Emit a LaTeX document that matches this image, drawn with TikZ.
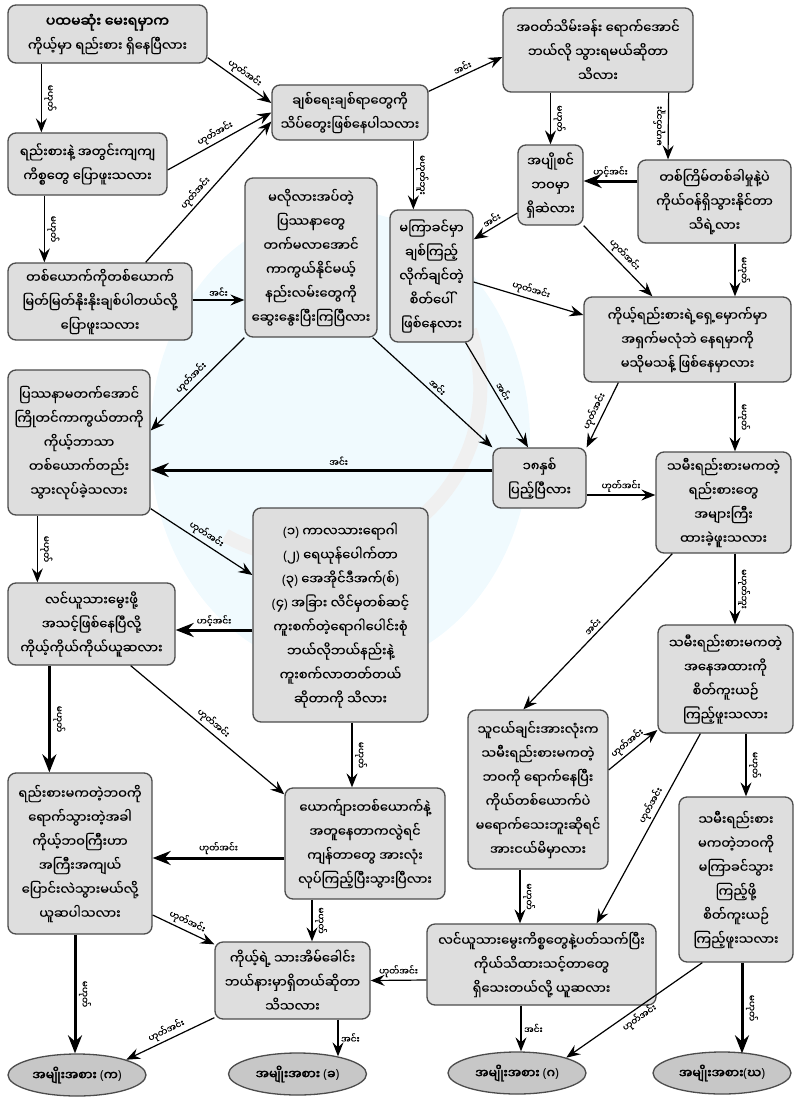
\documentclass[tikz,border=0pt]{standalone}
\usepackage{fontspec}
\newfontfamily\mmfont[Script=Myanmar,FakeBold=0.3]{Noto Sans Myanmar UI}
\newfontfamily\mmbold[Script=Myanmar,FakeBold=2.5]{Noto Sans Myanmar UI}
\newfontfamily\latfont{Noto Sans}
\newcommand{\bk}[1]{{\latfont(}#1{\latfont)}}
\usetikzlibrary{arrows.meta}
\usetikzlibrary{shapes,calc}
\tikzset{
    qbox/.style={
        draw=black!70,
        fill=black!13,
        rounded corners=8pt,
        line width=1.3pt,
        align=center,
        inner sep=1pt,
        font=\mmfont\fontsize{13}{24}\selectfont
    },
    endbox/.style={
        draw=black!70,
        fill=black!22,
        ellipse,
        line width=1.3pt,
        minimum width=138pt,
        minimum height=42pt,
        inner sep=0pt,
        font=\mmbold\fontsize{12.5}{14}\selectfont
    },
    ans/.style={font=\mmfont\fontsize{9}{10}\selectfont, inner sep=2.5pt},
    arr/.style={-{Stealth[length=14pt, width=11pt, inset=5pt]}, line width=1.2pt},
    bigarr/.style={-{Stealth[length=18pt, width=14pt, inset=6pt]}, line width=3pt}
}

\begin{document}
\begin{tikzpicture}[x=1pt, y=1pt]
    \useasboundingbox (0,0) rectangle (796,-1097);
    % faint watermark behind the chart
    \fill[cyan!6] (340,-440) ellipse (190 and 230);
    \draw[black!6, line width=14pt] (470,-330) arc (20:-120:170);

    % questions
    \node[qbox, minimum width=199pt, minimum height=58pt] (q1) at (107.5,-34) {{\mmbold\fontsize{14}{24}\selectfont ပထမဆုံး မေးရမှာက}\\ ကိုယ့်မှာ ရည်းစား ရှိနေပြီလား};
    \node[qbox, minimum width=159pt, minimum height=62pt] (q2) at (87.5,-164) {ရည်းစားနဲ့ အတွင်းကျကျ\\ ကိစ္စတွေ ပြောဖူးသလား};
    \node[qbox, minimum width=184pt, minimum height=77pt] (q3) at (100,-301.5) {တစ်ယောက်ကိုတစ်ယောက်\\ မြတ်မြတ်နိုးနိုးချစ်ပါတယ်လို့\\ ပြောဖူးသလား};
    \node[qbox, minimum width=142pt, minimum height=145pt] (q4) at (79,-442.5) {ပြဿနာမတက်အောင်\\ ကြိုတင်ကာကွယ်တာကို\\ ကိုယ့်ဘာသာ\\ တစ်ယောက်တည်း\\ သွားလုပ်ခဲ့သလား};
    \node[qbox, minimum width=167pt, minimum height=82pt] (q5) at (91.5,-624) {လင်ယူသားမွေးဖို့\\ အသင့်ဖြစ်နေပြီလို့\\ ကိုယ့်ကိုယ်ကိုယ်ယူဆလား};
    \node[qbox, minimum width=144pt, minimum height=161pt] (q6) at (80,-853.5) {ရည်းစားမကတဲ့ဘဝကို\\ ရောက်သွားတဲ့အခါ\\ ကိုယ့်ဘဝကြီးဟာ\\ အကြီးအကျယ်\\ ပြောင်းလဲသွားမယ်လို့\\ ယူဆပါသလား};
    \node[qbox, minimum width=156pt, minimum height=55pt] (q7) at (350,-112.5) {ချစ်ရေးချစ်ရာတွေကို\\ သိပ်တွေးဖြစ်နေပါသလား};
    \node[qbox, minimum width=190pt, minimum height=84pt] (q8) at (598,-50) {အဝတ်သိမ်းခန်း ရောက်အောင်\\ ဘယ်လို သွားရမယ်ဆိုတာ\\ သိလား};
    \node[qbox, minimum width=65pt, minimum height=80pt] (q9) at (550.5,-185) {အပျိုစင်\\ ဘဝမှာ\\ ရှိဆဲလား};
    \node[qbox, minimum width=153pt, minimum height=83pt] (q10) at (714.5,-201.5) {တစ်ကြိမ်တစ်ခါမှုနဲ့ပဲ\\ ကိုယ်ဝန်ရှိသွားနိုင်တာ\\ သိရဲ့လား};
    \node[qbox, minimum width=132pt, minimum height=159pt] (q11) at (311,-257.5) {မလိုလားအပ်တဲ့\\ ပြဿနာတွေ\\ တက်မလာအောင်\\ ကာကွယ်နိုင်မယ့်\\ နည်းလမ်းတွေကို\\ ဆွေးနွေးပြီးကြပြီလား};
    \node[qbox, minimum width=83pt, minimum height=132pt] (q12) at (431.5,-276) {မကြာခင်မှာ\\ ချစ်ကြည့်\\ လိုက်ချင်တဲ့\\ စိတ်ပေါ်\\ ဖြစ်နေလား};
    \node[qbox, minimum width=207pt, minimum height=85pt] (q13) at (687.5,-339.5) {ကိုယ့်ရည်းစားရဲ့ရှေ့မှောက်မှာ\\ အရှက်မလုံဘဲ နေရမှာကို\\ မသိုမသန့် ဖြစ်နေမှာလား};
    \node[qbox, minimum width=93pt, minimum height=60pt] (q14) at (539.5,-478) {၁၈နှစ်\\ ပြည့်ပြီလား};
    \node[qbox, minimum width=135pt, minimum height=101pt] (q15) at (723.5,-502.5) {သမီးရည်းစားမကတဲ့\\ ရည်းစားတွေ\\ အများကြီး\\ ထားခဲ့ဖူးသလား};
    \node[qbox, minimum width=175pt, minimum height=214pt] (q16) at (340.5,-615) {\bk{၁} ကာလသားရောဂါ\\ \bk{၂} ရေယုန်ပေါက်တာ\\ \bk{၃} အေအိုင်ဒီအက်\bk{စ်}\\ \bk{၄} အခြား လိင်မှတစ်ဆင့်\\ ကူးစက်တဲ့ရောဂါပေါင်းစုံ\\ ဘယ်လိုဘယ်နည်းနဲ့\\ ကူးစက်လာတတ်တယ်\\ ဆိုတာကို သိလား};
    \node[qbox, minimum width=135pt, minimum height=108pt] (q17) at (725.5,-679) {သမီးရည်းစားမကတဲ့\\ အနေအထားကို\\ စိတ်ကူးယဉ်\\ ကြည့်ဖူးသလား};
    \node[qbox, minimum width=140pt, minimum height=159pt] (q18) at (538,-789.5) {သူငယ်ချင်းအားလုံးက\\ သမီးရည်းစားမကတဲ့\\ ဘဝကို ရောက်နေပြီး\\ ကိုယ်တစ်ယောက်ပဲ\\ မရောက်သေးဘူးဆိုရင်\\ အားငယ်မိမှာလား};
    \node[qbox, minimum width=114pt, minimum height=165pt] (q19) at (736,-879.5) {သမီးရည်းစား\\ မကတဲ့ဘဝကို\\ မကြာခင်သွား\\ ကြည့်ဖို့\\ စိတ်ကူးယဉ်\\ ကြည့်ဖူးသလား};
    \node[qbox, minimum width=160pt, minimum height=111pt] (q20) at (365,-843.5) {ယောက်ျားတစ်ယောက်နဲ့\\ အတူနေတာကလွဲရင်\\ ကျန်တာတွေ အားလုံး\\ လုပ်ကြည့်ပြီးသွားပြီလား};
    \node[qbox, minimum width=229pt, minimum height=81pt] (q21) at (541.5,-964.5) {လင်ယူသားမွေးကိစ္စတွေနဲ့ပတ်သက်ပြီး\\ ကိုယ်သိထားသင့်တာတွေ\\ ရှိသေးတယ်လို့ ယူဆလား};
    \node[qbox, minimum width=155pt, minimum height=77pt] (q22) at (292.5,-980.5) {ကိုယ့်ရဲ့ သားအိမ်ခေါင်း\\ ဘယ်နားမှာရှိတယ်ဆိုတာ\\ သိသလား};

    % results
    \node[endbox] (tA) at (77,-1075) {အမျိုးအစား \bk{က}};
    \node[endbox] (tB) at (297.5,-1074) {အမျိုးအစား \bk{ခ}};
    \node[endbox] (tC) at (517,-1073) {အမျိုးအစား \bk{ဂ}};
    \node[endbox] (tD) at (722,-1073) {အမျိုးအစား\bk{ဃ}};

    % left column
    \draw[arr] ([xshift=34pt]q1.south west) -- node[ans, above, sloped] {မဟုတ်} ([xshift=34pt]q2.north west);
    \draw[arr] ([yshift=6pt]q1.south east) -- node[ans, above, sloped] {ဟုတ်အင်း} ([yshift=9.5pt]q7.west);
    \draw[arr] ([xshift=37pt]q2.south west) -- node[ans, above, sloped] {မဟုတ်} ([xshift=37pt]q3.north west);
    \draw[arr] ([yshift=-6pt]q2.east) -- node[ans, above, sloped] {ဟုတ်အင်း} (q7.west);
    \draw[arr] ([xshift=-47pt]q3.north east) -- node[ans, above, sloped, pos=0.45] {ဟုတ်အင်း} ([yshift=-9pt]q7.west);
    \draw[arr] ([yshift=1.5pt]q3.east) -- node[ans, above] {အင်း} ([yshift=1.5pt]q3.east -| q11.west);
    \draw[arr] ([xshift=30pt]q4.south west) -- node[ans, above, sloped] {မဟုတ်} ([xshift=30pt]q5.north west);
    \draw[arr] ([yshift=7pt]q4.south east) -- node[ans, above, sloped] {ဟုတ်အင်း} ([yshift=40pt]q16.west);
    \draw[bigarr] ([xshift=42pt]q5.south west) -- node[ans, above, sloped] {မဟုတ်} ([xshift=42pt]q6.north west);
    \draw[arr] ([xshift=-45pt]q5.south east) -- node[ans, above, sloped] {ဟုတ်အင်း} ([yshift=-7pt]q20.north west);
    \draw[arr] ([yshift=-61.5pt]q6.east) -- node[ans, above, sloped] {ဟုတ်အင်း} ([yshift=-3pt]q22.north west);
    \draw[bigarr] ([xshift=-5pt]q6.south) -- node[ans, above, sloped] {မဟုတ်} ([xshift=-2pt]tA.north);

    % top and middle
    \draw[arr] ([yshift=-7pt]q7.north east) -- node[ans, above, sloped] {အင်း} ([yshift=-7pt]q8.west);
    \draw[arr] ([xshift=142pt]q7.south west) -- node[ans, above, sloped] {မဟုတ်ဘူး} ([xshift=24pt]q12.north west);
    \draw[arr] (q8.south -| q9.north) -- node[ans, above, sloped] {မဟုတ်} (q9.north);
    \draw[arr] ([xshift=-25pt]q8.south east) -- node[ans, above, sloped] {မဟုတ်ဘူး} ([xshift=-46.5pt]q10.north);
    \draw[bigarr] ([yshift=20.5pt]q10.west) -- node[ans, above] {ဟင့်အင်း} ([yshift=4pt]q9.east);
    \draw[arr] ([yshift=-28pt]q9.west) -- node[ans, above, sloped] {အင်း} ([yshift=-30pt]q12.north east);
    \draw[arr] (q9.south east) -- node[ans, above, sloped] {ဟုတ်အင်း} ([xshift=69pt]q13.north west);
    \draw[arr] ([xshift=20.5pt]q10.south) -- node[ans, above, sloped] {မဟုတ်} ([xshift=47.5pt]q13.north);
    \draw[arr] ([yshift=-6pt]q12.east) -- node[ans, above, sloped] {ဟုတ်အင်း} ([yshift=24.5pt]q13.west);
    \draw[arr] ([xshift=-8pt]q12.south east) -- node[ans, above, sloped] {အင်း} ([xshift=-11.5pt]q14.north);
    \draw[arr] ([xshift=-5pt]q11.south east) -- node[ans, above, sloped] {အင်း} (q14.north west);
    \draw[arr] (q11.south west) -- node[ans, above, sloped] {ဟုတ်အင်း} ([yshift=12pt]q4.east);
    \draw[arr] ([xshift=35pt]q13.south west) -- node[ans, above, sloped] {ဟုတ်အင်း} (q14.north east);
    \draw[arr] ([xshift=47.5pt]q13.south) -- node[ans, above, sloped] {မဟုတ်} ([xshift=11.5pt]q15.north);
    \draw[bigarr] ([yshift=8pt]q14.west) -- node[ans, above, pos=0.45] {အင်း} ([yshift=8pt]q14.west -| q4.east);
    \draw[arr] ([yshift=-17pt]q14.east) -- node[ans, above] {ဟုတ်အင်း} ([yshift=-17pt]q14.east -| q15.west);
    \draw[bigarr] ([yshift=-15pt]q16.west) -- node[ans, above] {ဟင့်အင်း} ([yshift=-6pt]q5.east);
    \draw[arr] ([xshift=11.5pt]q16.south) -- node[ans, above, sloped] {မဟုတ်} ([xshift=-13pt]q20.north);

    % right side
    \draw[arr] ([xshift=17pt]q15.south west) -- node[ans, above, sloped] {အင်း} ([xshift=56pt]q18.north west);
    \draw[arr] ([xshift=11.5pt]q15.south) -- node[ans, above, sloped] {မဟုတ်ဘူး} ([xshift=9.5pt]q17.north);
    \draw[arr] ([yshift=19.5pt]q18.east) -- node[ans, above, sloped] {ဟုတ်အင်း} ([yshift=-51pt]q17.west);
    \draw[arr] ([xshift=43pt]q17.south west) -- node[ans, above, sloped, pos=0.4] {ဟုတ်အင်း} ([xshift=-60pt]q21.north east);
    \draw[arr] ([xshift=20.5pt]q17.south) -- node[ans, above, sloped] {မဟုတ်} ([xshift=10pt]q19.north);
    \draw[arr] ([xshift=-18pt]q18.south) -- node[ans, above, sloped] {မဟုတ်} ([xshift=-21.5pt]q21.north);
    \draw[arr] ([xshift=24pt]q19.south west) -- node[ans, below, sloped] {ဟုတ်အင်း} (tC.north east);
    \draw[bigarr] ([xshift=6pt]q19.south) -- node[ans, above, sloped] {မဟုတ်} ([xshift=20pt, yshift=-2pt]tD.north);

    % bottom
    \draw[arr] ([xshift=-20.5pt]q21.south) -- node[ans, right] {အင်း} ([xshift=4pt]tC.north);
    \draw[arr] ([yshift=-15.5pt]q21.west) -- node[ans, above] {ဟုတ်အင်း} (q22.east);
    \draw[bigarr] ([yshift=-14.5pt]q20.west) -- node[ans, above] {ဟုတ်အင်း} ([yshift=-4.5pt]q6.east);
    \draw[arr] ([xshift=-53pt]q20.south) -- node[ans, above, sloped] {မဟုတ်} ([xshift=19.5pt]q22.north);
    \draw[arr] ([yshift=2pt]q22.south west) -- node[ans, above, sloped] {ဟုတ်အင်း} (tA.north east);
    \draw[arr] ([xshift=45.5pt]q22.south) -- node[ans, right] {အင်း} ([xshift=40.5pt, yshift=-4pt]tB.north);
\end{tikzpicture}
\end{document}
